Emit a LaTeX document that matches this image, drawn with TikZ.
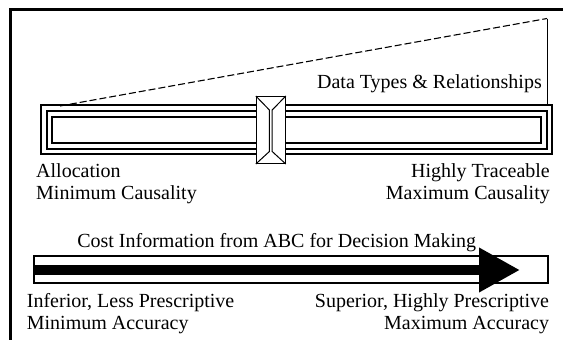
\documentclass[tikz,border=0pt]{standalone}
\usepackage{fontspec}
\setmainfont{Liberation Serif}
\usetikzlibrary{arrows.meta}
\begin{document}
\begin{tikzpicture}[x=1pt,y=-1pt,
  lbl/.style={inner sep=0pt, font=\fontsize{20}{22}\selectfont},
  railline/.style={line width=2pt},
  thinline/.style={line width=1pt},
  guide/.style={line width=1.1pt, dash pattern=on 7pt off 3pt}]
\useasboundingbox (0,0) rectangle (563,340);
\clip (0,0) rectangle (563,340);

% outer frame (runs past the right and bottom edges)
\draw[line width=2.5pt] (10.5,9.5) rectangle (600,400);

% slider rail: three nested outlines
\draw[railline] (40.5,104.8) rectangle (552,154.3);
\draw[railline] (46.5,110.8) rectangle (546.5,148.5);
\draw[railline] (52.3,116.6) rectangle (541,142.7);

% rising guide from the left end of the rail to the right marker
\coordinate (gstart) at (60,106);
\coordinate (gtop) at (547,18.5);
\coordinate (gbot) at (547,104);
\draw[guide] (gstart) -- (gtop);
\draw[thinline] (gtop) -- (gbot);

% slider knob with bevel
\node[draw, fill=white, thinline, inner sep=0pt, minimum width=29pt, minimum height=67pt] (knob) at (270.8,130) {};
\coordinate (kTL) at (269.4,110);
\coordinate (kTR) at (272.2,110);
\coordinate (kBL) at (269.4,151.5);
\coordinate (kBR) at (272.2,151.5);
\draw[thinline] (knob.north west) -- (kTL) -- (kBL) -- (knob.south west);
\draw[thinline] (knob.north east) -- (kTR) -- (kBR) -- (knob.south east);

% labels of the rail (base anchor = baseline of the last line)
\node[lbl, anchor=base east] (types) at (542,88) {Data Types \& Relationships};
\node[lbl, anchor=base west, align=left] (alloc) at (36,199) {Allocation\\Minimum Causality};
\node[lbl, anchor=base east, align=right] (trace) at (550,199) {Highly Traceable\\Maximum Causality};

% cost information arrow
\node[lbl, anchor=base] (cost) at (276.7,247) {Cost Information from ABC for Decision Making};
\coordinate (aL) at (33.5,256);
\coordinate (aR) at (548,282.5);
\draw[railline] (aL) rectangle (aR);
\coordinate (bandstart) at (33,270);
\coordinate (bandtip) at (520,270);
\draw[line width=10pt, -{Triangle[length=41pt,width=42pt]}] (bandstart) -- (bandtip);

\node[lbl, anchor=base west, align=left] (inf) at (26.7,329) {Inferior, Less Prescriptive\\Minimum Accuracy};
\node[lbl, anchor=base east, align=right] (sup) at (549.3,329) {Superior, Highly Prescriptive\\Maximum Accuracy};
\end{tikzpicture}
\end{document}
